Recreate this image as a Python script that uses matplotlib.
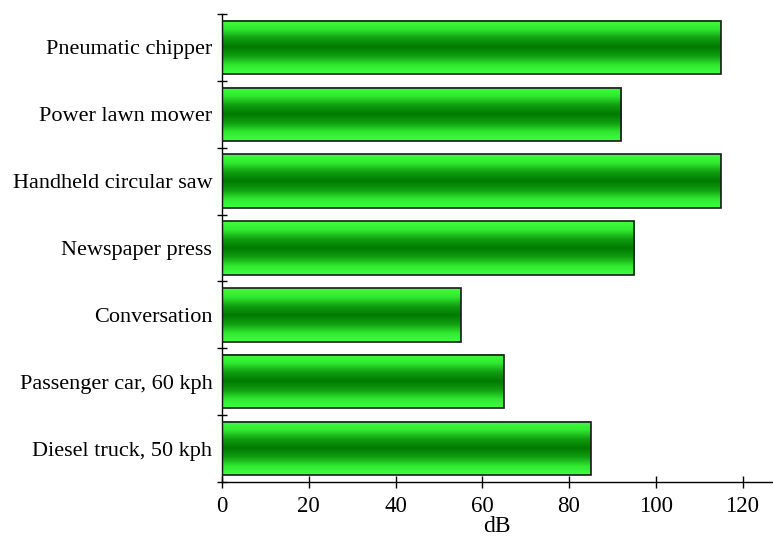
import numpy as np
import matplotlib
matplotlib.use("Agg")
import matplotlib.pyplot as plt
from matplotlib.colors import LinearSegmentedColormap

categories = ["Diesel truck, 50 kph", "Passenger car, 60 kph", "Conversation",
              "Newspaper press", "Handheld circular saw", "Power lawn mower",
              "Pneumatic chipper"]
values = [85, 65, 55, 95, 115, 92, 115]
xticks = [0, 20, 40, 60, 80, 100, 120]

plt.rcParams["font.family"] = ["Liberation Serif", "DejaVu Serif"]

fig = plt.figure(figsize=(7.73, 5.40), dpi=100)
ax = fig.add_axes([222 / 773, 1 - 482 / 540, (772 - 222) / 773, (482 - 14) / 540])

green = LinearSegmentedColormap.from_list(
    "bar_shade", ["#40ff40", "#30e830", "#109e10", "#007a00", "#109e10", "#30e830", "#40ff40"])
grad = np.linspace(0, 1, 256).reshape(-1, 1)

h = 0.8
y = np.arange(len(categories))
for yi, v in zip(y, values):
    ax.imshow(grad, cmap=green, aspect="auto", origin="lower",
              extent=[0, v, yi - h / 2, yi + h / 2], zorder=2, interpolation="bicubic")
ax.barh(y, values, height=h, facecolor="none", edgecolor="#1a1a1a", linewidth=1.2, zorder=3)

ax.set_xlim(0, 126.8)
ax.set_ylim(-0.5, len(categories) - 0.5)

ax.set_xticks(xticks)
ax.set_xticklabels([str(t) for t in xticks], fontsize=16.5)
ax.set_yticks(y)
ax.set_yticklabels(categories, fontsize=16)
ax.set_yticks(np.arange(-0.5, len(categories)), minor=True)

ax.tick_params(axis="y", which="major", length=0, pad=7)
ax.tick_params(axis="y", which="minor", direction="inout", length=7, width=1)
ax.tick_params(axis="x", which="major", direction="inout", length=8, width=1, pad=6)

for s in ("top", "right"):
    ax.spines[s].set_visible(False)
for s in ("left", "bottom"):
    ax.spines[s].set_linewidth(1)

ax.set_xlabel("dB", fontsize=17, labelpad=-1)

fig.savefig("out.png", dpi=100)
